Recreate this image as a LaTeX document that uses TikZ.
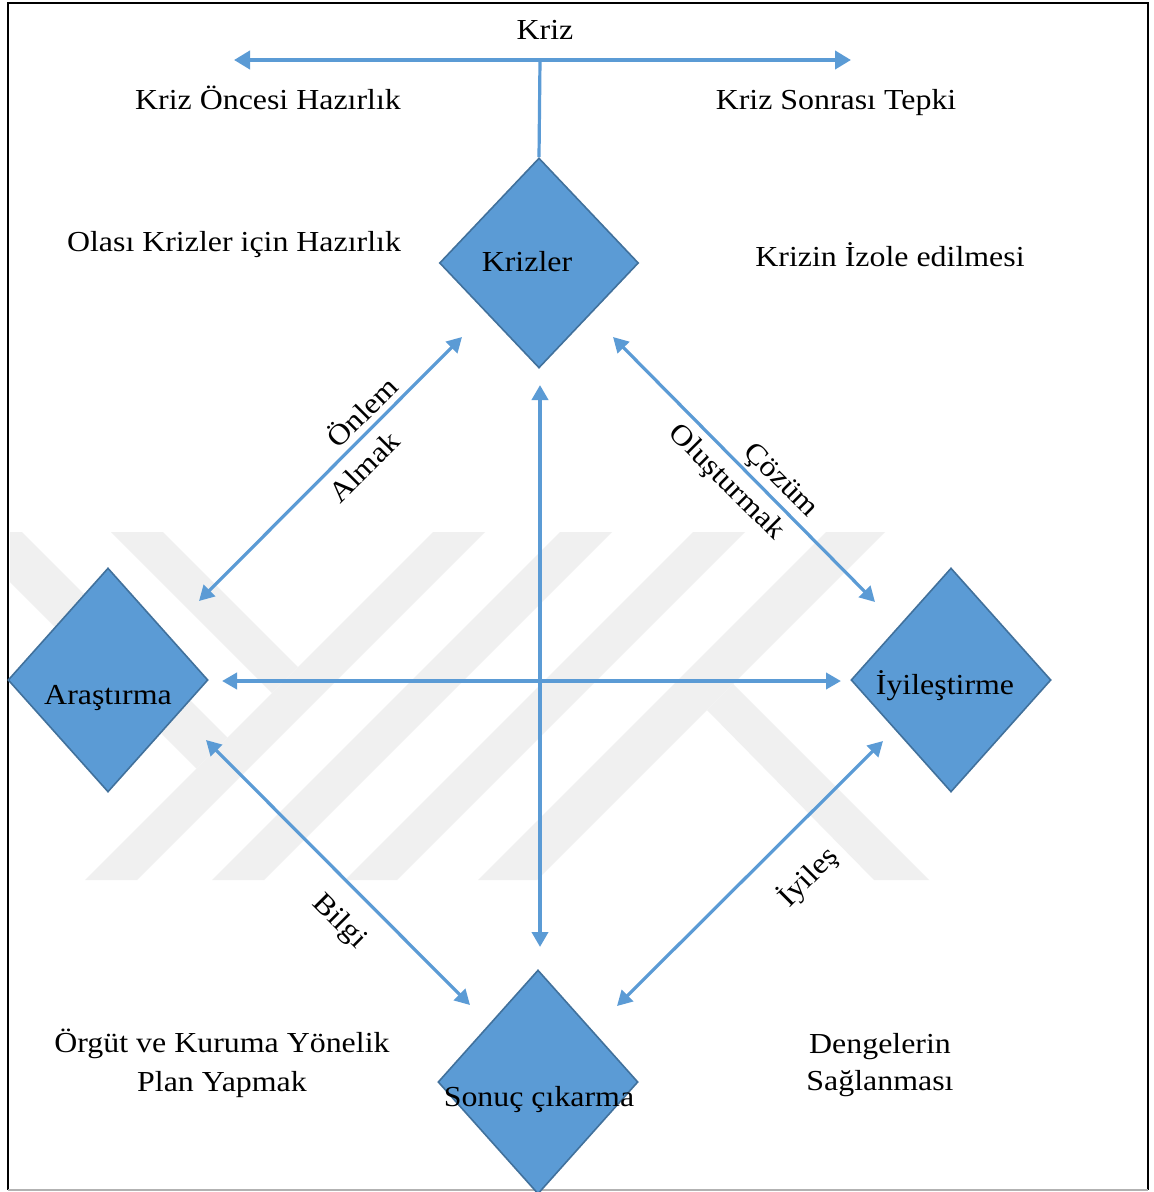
\documentclass[tikz,border=0pt]{standalone}
\usepackage{fontspec}
\setmainfont{Liberation Serif}[FakeStretch=1.1]
\usetikzlibrary{arrows.meta,shapes.geometric}
\definecolor{dfill}{HTML}{5B9BD5}
\definecolor{dline}{HTML}{41719C}
\definecolor{aline}{HTML}{5B9BD5}
\begin{document}
\begin{tikzpicture}[x=0.5pt,y=-0.5pt,
  dia/.style={diamond, draw=dline, fill=dfill, line width=0.8pt, inner sep=0pt},
  lab/.style={font=\fontsize{14.5}{19.5}\selectfont, inner sep=0pt, text=black},
  blab/.style={lab, anchor=base},
  arr/.style={draw=aline, line width=1.6pt, {Triangle[length=7.5pt,width=8pt]}-{Triangle[length=7.5pt,width=8pt]}},
  arrthick/.style={draw=aline, line width=2.2pt, {Triangle[length=8pt,width=9pt]}-{Triangle[length=8pt,width=9pt]}},
  wm/.style={fill=black!6}]
\useasboundingbox (0,0) rectangle (1153,1192);
\fill[white] (0,0) rectangle (1153,1192);

% watermark
\begin{scope}
\clip (10,532) rectangle (962,880);
\fill[wm] (-40,532) -- (22,532) -- (227.5,737.5) -- (196.5,768.5) -- cycle;
\fill[wm] (111,532) -- (163,532) -- (298,667) -- (272,693) -- cycle;
\fill[wm] (433,532) -- (485,532) -- (137,880) -- (85,880) -- cycle;
\fill[wm] (560,532) -- (612,532) -- (264,880) -- (212,880) -- cycle;
\fill[wm] (693,532) -- (745,532) -- (397,880) -- (345,880) -- cycle;
\fill[wm] (826,532) -- (885,532) -- (537,880) -- (478,880) -- cycle;
\fill[wm] (707,710) -- (733,684) -- (929,880) -- (874,880) -- cycle;
\end{scope}

% frame
\draw[line width=1pt] (8,1190) -- (8,3) -- (1148,3) -- (1148,1190);
\draw[black!30, line width=0.8pt] (8,1190) -- (1148,1190);

% diamonds
\node[dia, minimum width=99.5pt, minimum height=105pt] (krizler) at (539,263) {};
\node[dia, minimum width=100pt, minimum height=112pt] (arastirma) at (108,680) {};
\node[dia, minimum width=100pt, minimum height=112pt] (iyilestirme) at (951,680) {};
\node[dia, minimum width=100pt, minimum height=112pt] (sonuc) at (538,1082) {};

\node[blab] (tkrizler) at (527,272) {Krizler};
\node[blab] (tarastirma) at (108,704) {Araştırma};
\node[blab] (tiyilestirme) at (945,694) {İyileştirme};
\node[blab] (tsonuc) at (539,1106) {Sonuç çıkarma};

% free texts
\node[blab] (kriz) at (545,39.5) {Kriz};
\node[blab] (oncesi) at (268,109.5) {Kriz Öncesi Hazırlık};
\node[blab] (sonrasi) at (836,109.5) {Kriz Sonrası Tepki};
\node[blab] (olasi) at (234,251.5) {Olası Krizler için Hazırlık};
\node[blab] (izole) at (890,266.5) {Krizin İzole edilmesi};
\node[blab] (orgut1) at (222,1052.5) {Örgüt ve Kuruma Yönelik};
\node[blab] (orgut2) at (222,1091.5) {Plan Yapmak};
\node[blab] (denge1) at (880,1053) {Dengelerin};
\node[blab] (denge2) at (880,1090.5) {Sağlanması};

% arrow end points
\coordinate (tl) at (234,60);
\coordinate (tr) at (851,60);
\coordinate (tm) at (540,60);
\coordinate (a1) at (462,337);
\coordinate (a2) at (199,601);
\coordinate (b1) at (613,337);
\coordinate (b2) at (875,602);
\coordinate (h1) at (222,681);
\coordinate (h2) at (841,681);
\coordinate (v1) at (540,385);
\coordinate (v2) at (540,947);
\coordinate (c1) at (206,740);
\coordinate (c2) at (470,1005);
\coordinate (d1) at (883,741);
\coordinate (d2) at (617,1006);

% connectors
\draw[arrthick] (tl) -- (tr);
\draw[draw=aline, line width=1.6pt] (tm) -- (krizler.north);
\draw[arr] (a1) -- (a2);
\draw[arr] (b1) -- (b2);
\draw[arr, line width=2pt] (h1) -- (h2);
\draw[arr, line width=2pt] (v1) -- (v2);
\draw[arr] (c1) -- (c2);
\draw[arr] (d1) -- (d2);

% connector labels
\node[lab, rotate=45] (onlem) at (361,411) {Önlem};
\node[lab, rotate=45] (almak) at (364,467) {Almak};
\node[lab, rotate=-45] (cozum) at (780,481) {Çözüm};
\node[lab, rotate=-45] (olustur) at (726,483) {Oluşturmak};
\node[lab, rotate=-45] (bilgi) at (339,922) {Bilgi};
\node[lab, rotate=45] (iyiles) at (808,877) {İyileş};
\end{tikzpicture}
\end{document}
